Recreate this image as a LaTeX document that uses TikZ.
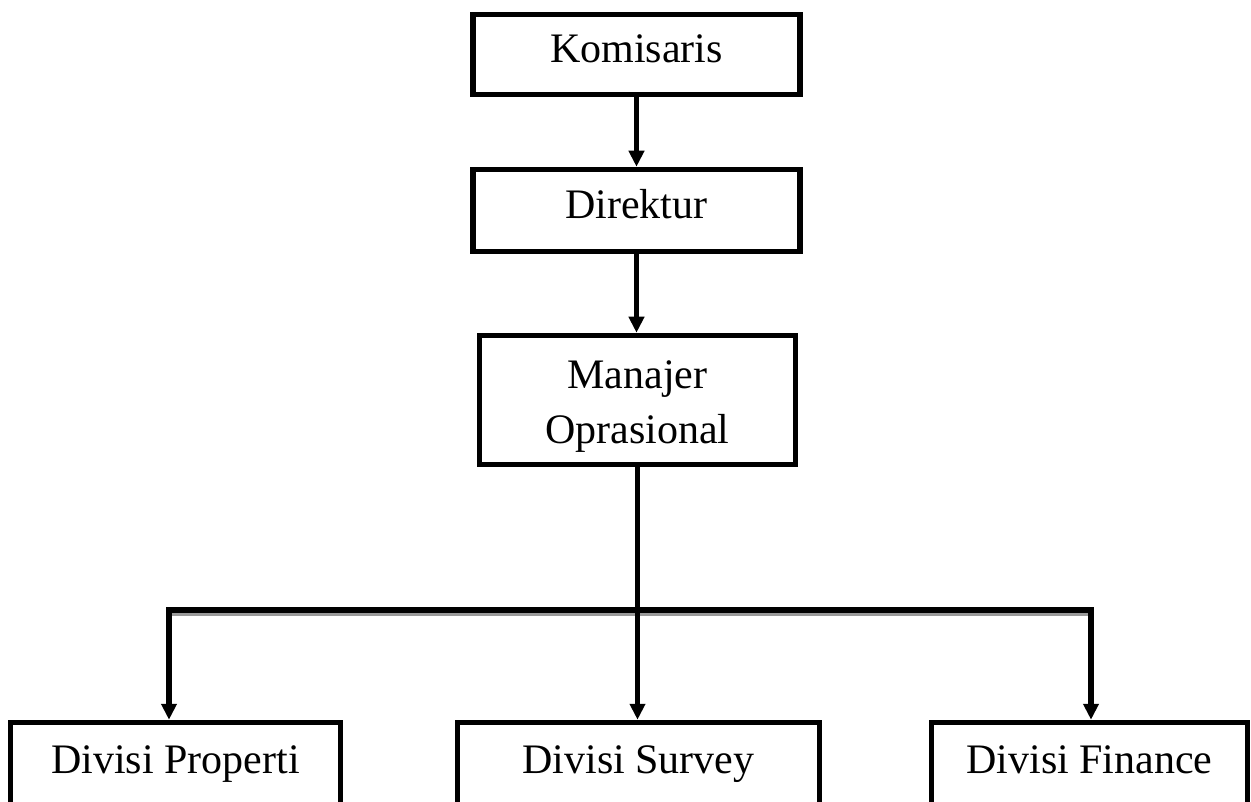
\documentclass[tikz,border=0pt]{standalone}
\usepackage{fontspec}
\setmainfont{Liberation Serif}
\usetikzlibrary{arrows.meta}
\begin{document}
\begin{tikzpicture}[x=1pt,y=-1pt,
  box/.style={draw=black, line width=5.5pt, fill=white, inner sep=0pt, align=center,
    text height=29pt, text depth=12pt, font=\fontsize{42}{55}\selectfont},
  conn/.style={draw=black, line width=5.5pt},
  arr/.style={conn, -{Triangle[length=16pt,width=15pt]}},
  shadowline/.style={draw=black!40, line width=3pt}]
\useasboundingbox (0,0) rectangle (1251,802);
\clip (0,0) rectangle (1251,802);
\node[box, minimum width=327pt, minimum height=80pt] (kom) at (636.5,54.5) {Komisaris};
\node[box, minimum width=327pt, minimum height=82pt] (dir) at (636.5,210.5) {Direktur};
\node[box, minimum width=316pt, minimum height=129pt, text height=96pt, text depth=10pt] (man) at (637.5,400) {Manajer\\Oprasional};
\node[box, minimum width=330pt, minimum height=84pt] (prop) at (175.5,764.5) {Divisi Properti};
\node[box, minimum width=362pt, minimum height=84pt] (surv) at (638.5,764.5) {Divisi Survey};
\node[box, minimum width=316pt, minimum height=84pt] (fin) at (1089.5,764.5) {Divisi Finance};
\coordinate (jl) at (169,610);
\coordinate (jm) at (637.5,610);
\coordinate (jr) at (1091,610);
\draw[arr] (kom.south) -- (dir.north);
\draw[arr] (dir.south) -- (man.north -| dir.south);
\draw[shadowline] ([yshift=-4pt]jl) -- ([yshift=-4pt]jr);
\draw[conn] (man.south) -- (jm);
\draw[conn, line cap=rect] (jl) -- (jr);
\draw[arr] (jl) -- (jl |- prop.north);
\draw[arr] (jm) -- (jm |- surv.north);
\draw[arr] (jr) -- (jr |- fin.north);
\end{tikzpicture}
\end{document}
